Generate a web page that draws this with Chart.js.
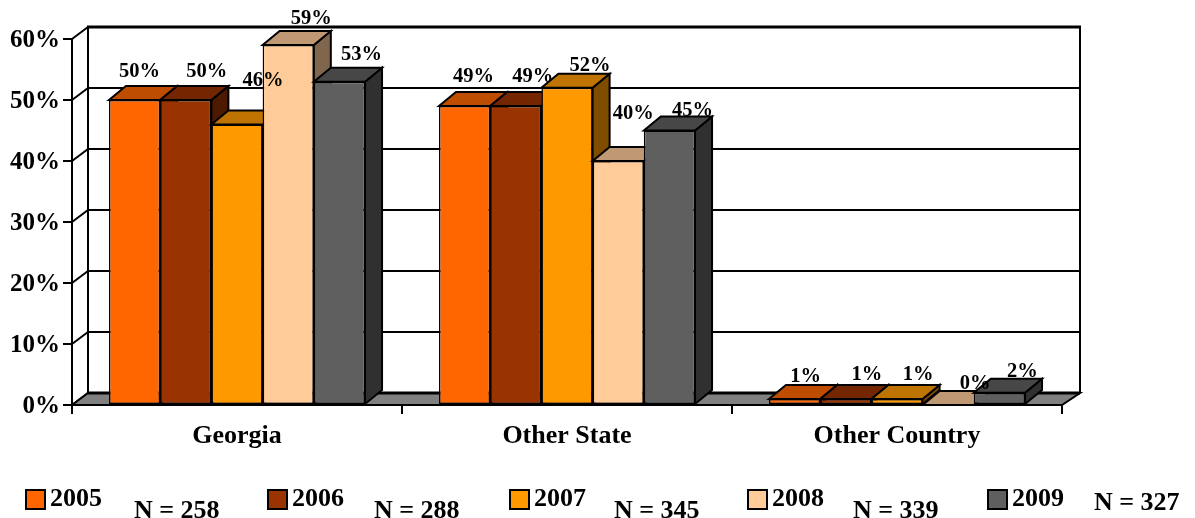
<!DOCTYPE html>
<html>
<head>
<meta charset="utf-8">
<title>Residence by year</title>
<script src="https://cdn.jsdelivr.net/npm/chart.js@4"></script>
<style>
html, body { margin: 0; padding: 0; background: #fff; }
canvas { display: block; }
</style>
</head>
<body>
<canvas id="residence" width="1195" height="518"></canvas>
<script>
'use strict';

var categories = ['Georgia', 'Other State', 'Other Country'];
var years = ['2005', '2006', '2007', '2008', '2009'];
var sampleSizes = [258, 288, 345, 339, 327];
var values2005 = [50, 49, 1];
var values2006 = [50, 49, 1];
var values2007 = [46, 52, 1];
var values2008 = [59, 40, 0];
var values2009 = [53, 45, 2];
var yTicks = [0, 10, 20, 30, 40, 50, 60];

var colors = ['#FF6600', '#993300', '#FF9900', '#FFCC99', '#5F5F5F'];
var serif = '"Liberation Serif", "Times New Roman", serif';

// depth of the fake 3D box
var BAR_DX = 17, BAR_DY = 14;
var WALL_LEFT_DX = 16, WALL_RIGHT_DX = 18, WALL_DY = 12;

// hand placed label offsets from the top of each bar's front face [dataset][category]
var labelDx = [[5, 9, 11], [21, 17, 21], [26, 23, 21], [23, 15, 27], [22, 23, 23]];
var labelDy = [[-23, -24, -17], [-23, -24, -19], [-38, -17, -19], [-21, -42, -16], [-22, -15, -16]];

// legend placement, one entry per year
var swatchX = [26, 268, 510, 748, 988];
var sizeX = [134, 374, 614, 853, 1094];
var sizeY = [518, 518, 518, 518, 510];

function shade(hex, f) {
    var n = parseInt(hex.slice(1), 16);
    var r = Math.round((n >> 16) * f);
    var g = Math.round(((n >> 8) & 255) * f);
    var b = Math.round((n & 255) * f);
    return 'rgb(' + r + ',' + g + ',' + b + ')';
}

function poly(ctx, pts, fill) {
    ctx.beginPath();
    ctx.moveTo(pts[0][0], pts[0][1]);
    for (var i = 1; i < pts.length; i++) ctx.lineTo(pts[i][0], pts[i][1]);
    ctx.closePath();
    if (fill) {
        ctx.fillStyle = fill;
        ctx.fill();
    }
    ctx.stroke();
}

function line(ctx, x1, y1, x2, y2) {
    ctx.beginPath();
    ctx.moveTo(x1, y1);
    ctx.lineTo(x2, y2);
    ctx.stroke();
}

var box3d = {
    id: 'box3d',
    // walls and floor, then the bars left to right so each front covers its neighbour's side
    beforeDatasetsDraw: function (chart) {
        var ctx = chart.ctx, y = chart.scales.y, a = chart.chartArea;
        var backL = a.left + WALL_LEFT_DX, backR = a.right + WALL_RIGHT_DX;
        ctx.save();
        ctx.strokeStyle = '#000';
        ctx.lineJoin = 'miter';
        ctx.lineWidth = 2;
        yTicks.forEach(function (t) {
            var py = y.getPixelForValue(t);
            line(ctx, a.left, py, backL, py - WALL_DY);
            if (t > 0 && t < 60) line(ctx, backL, py - WALL_DY, backR, py - WALL_DY);
        });
        var top = y.getPixelForValue(60) - WALL_DY, floor = y.getPixelForValue(0);
        line(ctx, backL, top, backL, floor - WALL_DY);
        line(ctx, backR, top, backR, floor - WALL_DY);
        ctx.lineWidth = 3;
        line(ctx, backL - 1, top, backR + 1, top);
        ctx.lineWidth = 2;
        poly(ctx, [[a.left, floor], [backL, floor - WALL_DY], [backR, floor - WALL_DY], [a.right, floor]], '#808080');
        ctx.lineWidth = 3;
        line(ctx, backL, floor - WALL_DY, backR, floor - WALL_DY);
        ctx.lineWidth = 2;

        chart.data.datasets.forEach(function (ds, i) {
            chart.getDatasetMeta(i).data.forEach(function (bar) {
                var p = bar.getProps(['x', 'y', 'base', 'width'], true);
                var l = p.x - p.width / 2, r = p.x + p.width / 2;
                poly(ctx, [[r, p.y], [r + BAR_DX, p.y - BAR_DY], [r + BAR_DX, p.base - BAR_DY], [r, p.base]], shade(colors[i], 0.5));
                poly(ctx, [[l, p.y], [l + BAR_DX, p.y - BAR_DY], [r + BAR_DX, p.y - BAR_DY], [r, p.y]], shade(colors[i], 0.75));
                bar.draw(ctx);
            });
        });
        ctx.restore();
        return false;
    },
    afterDraw: function (chart) {
        var ctx = chart.ctx, y = chart.scales.y;
        ctx.save();
        ctx.fillStyle = '#000';
        ctx.textBaseline = 'alphabetic';

        // y tick labels sit a little under their tick marks
        ctx.font = 'bold 25px ' + serif;
        ctx.textAlign = 'right';
        y.ticks.forEach(function (t) {
            ctx.fillText(t.value + '%', 60, y.getPixelForValue(t.value) + 8);
        });

        // value labels
        ctx.font = 'bold 20.5px ' + serif;
        ctx.textAlign = 'center';
        chart.data.datasets.forEach(function (ds, i) {
            chart.getDatasetMeta(i).data.forEach(function (bar, j) {
                ctx.fillText(ds.data[j] + '%', bar.x + labelDx[i][j], bar.y + labelDy[i][j]);
            });
        });

        // legend with the sample size of each year
        ctx.font = 'bold 26px ' + serif;
        ctx.textAlign = 'left';
        years.forEach(function (year, i) {
            ctx.lineWidth = 2;
            ctx.strokeStyle = '#000';
            ctx.fillStyle = colors[i];
            ctx.fillRect(swatchX[i], 490, 19, 19);
            ctx.strokeRect(swatchX[i], 490, 19, 19);
            ctx.fillStyle = '#000';
            ctx.fillText(year, swatchX[i] + 24, 506);
            ctx.fillText('N = ' + sampleSizes[i], sizeX[i], sizeY[i]);
        });
        ctx.restore();
    }
};

new Chart(document.getElementById('residence'), {
    type: 'bar',
    plugins: [box3d],
    data: {
        labels: categories,
        datasets: [values2005, values2006, values2007, values2008, values2009].map(function (vals, i) {
            return {
                label: years[i],
                data: vals,
                backgroundColor: colors[i],
                borderColor: '#000',
                borderWidth: 1.5,
                borderSkipped: false,
                categoryPercentage: 0.776,
                barPercentage: 1
            };
        })
    },
    options: {
        responsive: false,
        animation: false,
        devicePixelRatio: 1,
        layout: { padding: { top: 39, right: 133, left: 0, bottom: 0 } },
        plugins: { legend: { display: false }, tooltip: { enabled: false } },
        scales: {
            x: {
                afterFit: function (scale) { scale.height = 113; },
                grid: { drawOnChartArea: false, color: '#000', lineWidth: 2, tickLength: 9 },
                border: { color: '#000', width: 2 },
                ticks: { color: '#000', padding: 7, maxRotation: 0, font: { family: serif, weight: 'bold', size: 26 } }
            },
            y: {
                min: 0,
                max: 60,
                afterFit: function (scale) { scale.width = 72; },
                grid: { drawOnChartArea: false, color: '#000', lineWidth: 2, tickLength: 9 },
                border: { color: '#000', width: 2 },
                ticks: {
                    display: false,
                    stepSize: 10,
                    callback: function (v) { return v + '%'; }
                }
            }
        }
    }
});
</script>
</body>
</html>
